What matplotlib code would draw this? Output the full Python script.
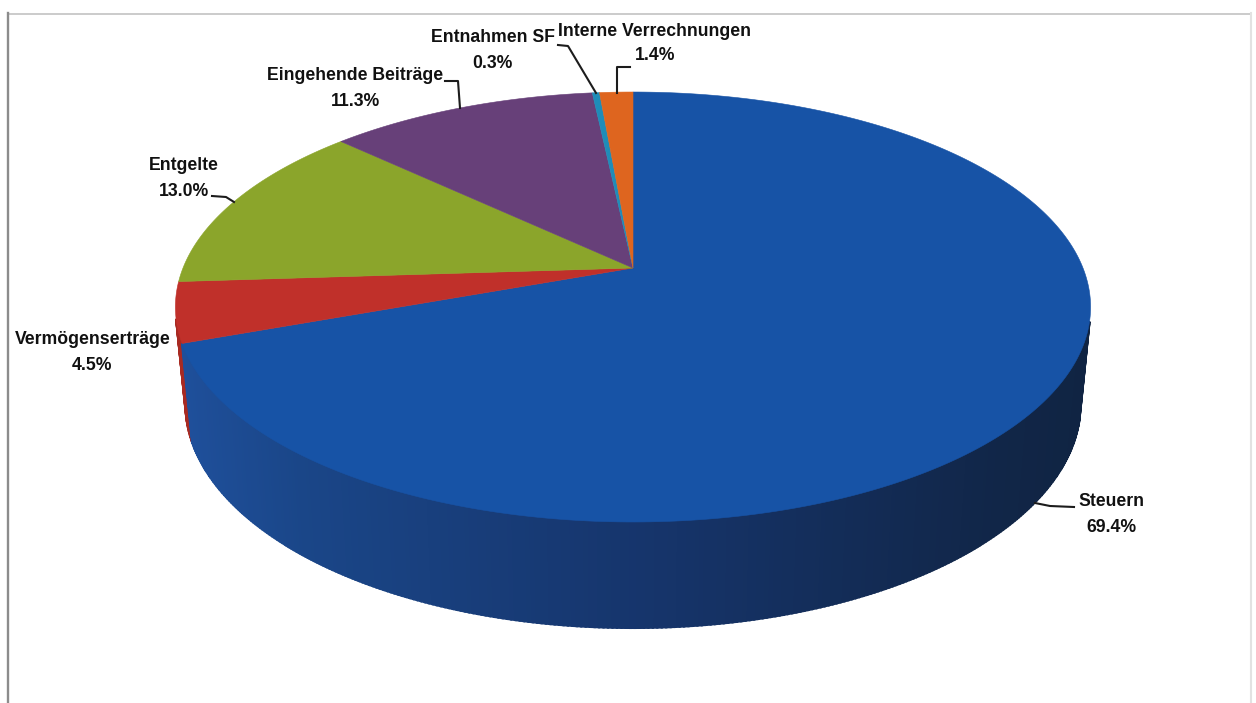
import numpy as np
import matplotlib
matplotlib.use("Agg")
import matplotlib.pyplot as plt

# slice data, clockwise from 12 o'clock
names = ["Steuern", "Vermögenserträge", "Entgelte", "Eingehende Beiträge", "Entnahmen SF", "Interne Verrechnungen"]
shares = [69.4, 4.5, 13.0, 11.3, 0.3, 1.4]
pct_labels = ["69.4%", "4.5%", "13.0%", "11.3%", "0.3%", "1.4%"]
colors = ["#1753a6", "#c0302a", "#8ba52b", "#674079", "#1f8cb8", "#de651f"]
side_colors = ["#1a3f80", "#a82a22", "#6f8522", "#4e3060", "#176a8c", "#a84c18"]

# text placement in pixels
name_xy = [(1111, 502), (93, 340), (184, 166), (355, 76), (493, 38), (654, 31)]
pct_xy = [(1111, 527), (92, 365), (184, 191), (355, 101), (492, 63), (655, 56)]
leaders = [
    [(1035, 503), (1050, 506), (1074, 507)],
    [],
    [(212, 196), (226, 197), (234, 202)],
    [(445, 81), (458, 81), (460, 108)],
    [(558, 45), (568, 46), (596, 93)],
    [(630, 67), (617, 67), (617, 93)],
]

W, H = 1256, 703
CX, R = 633, 450
PERSP = 0.1814  # foreshortening of the tilted disc


def top_xy(theta):
    # angle clockwise from the top -> pixel on the upper disc
    x, y = np.sin(theta), np.cos(theta)
    w = 1 + PERSP * y
    return CX + R * x / w, (268 - 159.3 * y) / w


def bottom_xy(theta):
    x, y = top_xy(theta)
    return CX + 0.978 * (x - CX), 1.042 * y + 84


def side_shade(px):
    # the wall gets darker from left to right
    stops = [150, 300, 640, 1000, 1100]
    return [np.interp(px, stops, c) for c in ([32, 26, 22, 17, 16], [82, 70, 53, 38, 36], [160, 136, 108, 72, 66])]


fig = plt.figure(figsize=(W / 100, H / 100), dpi=100)
ax = fig.add_axes([0, 0, 1, 1])
ax.set_xlim(0, W)
ax.set_ylim(H, 0)
ax.axis("off")

# scanned frame
ax.plot([7.5, 1250], [13.5, 13.5], color="#bdbdbd", lw=1.1)
ax.plot([7.5, 7.5], [13, 703], color="#8c8c8c", lw=1.7)
ax.plot([1250.5, 1250.5], [13, 703], color="#e2e2e2", lw=1.5)

total = sum(shares)
edges = np.concatenate([[0], np.cumsum(shares)]) / total * 2 * np.pi

# wall, back to front (the back half is hidden by the disc anyway)
segs = []
for i in range(len(shares)):
    n = max(3, int((edges[i + 1] - edges[i]) * 120))
    t = np.linspace(edges[i], edges[i + 1], n + 1)
    for a, b in zip(t[:-1], t[1:]):
        if top_xy(a)[1] > 320:
            segs.append((top_xy(a)[1], i, a, b))
segs.sort(key=lambda s: s[0])
for _, i, a, b in segs:
    x1, y1 = top_xy(a)
    x2, y2 = top_xy(b)
    x3, y3 = bottom_xy(b)
    x4, y4 = bottom_xy(a)
    if i == 0:
        c = np.array(side_shade((x1 + x2) / 2)) / 255
    else:
        c = side_colors[i]
    ax.fill([x1, x2, x3, x4], [y1, y2, y3, y4], color=c, lw=1.6)

# upper disc
for i in range(len(shares)):
    t = np.linspace(edges[i], edges[i + 1], 300)
    xs, ys = top_xy(t)
    ax.fill(np.r_[CX, xs], np.r_[268, ys], color=colors[i], lw=0.4)

# leader lines and labels
for i in range(len(names)):
    if leaders[i]:
        lx, ly = zip(*leaders[i])
        ax.plot(lx, ly, color="#1c1c1c", lw=1.5)
    ax.text(*name_xy[i], names[i], ha="center", va="center", family="Liberation Sans",
            fontweight="bold", fontsize=12.7, color="#111111")
    ax.text(*pct_xy[i], pct_labels[i], ha="center", va="center", family="Liberation Sans",
            fontweight="bold", fontsize=12.7, color="#111111")

fig.savefig("out.png", dpi=100)
